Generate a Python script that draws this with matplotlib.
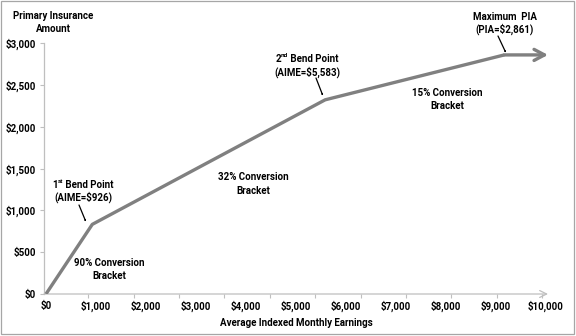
import numpy as np
import matplotlib
matplotlib.use("Agg")
import matplotlib.pyplot as plt
from matplotlib.ticker import FuncFormatter, FixedLocator
from matplotlib.patches import Rectangle, FancyArrowPatch

FONT = 'Roboto'
plt.rcParams['font.family'] = [FONT, 'DejaVu Sans']
plt.rcParams['font.weight'] = 'bold'

# PIA formula segments: AIME (x) and PIA (y) at each bend
aime_points = [0, 926, 5583, 9166]
pia_points = [0, 833.4, 2323.6, 2861]
aime_arrow_end = 10040

x_ticks = [0, 1000, 2000, 3000, 4000, 5000, 6000, 7000, 8000, 9000, 10000]
y_ticks = [0, 500, 1000, 1500, 2000, 2500, 3000]

line_color = '#808080'
axis_color = '#bfbfbf'
fs = 7

fig = plt.figure(figsize=(5.76, 3.36), dpi=100)
ax = fig.add_axes([44 / 576, 1 - 294 / 336, 504 / 576, (294 - 43.3) / 336])

# chart area border
fig.patches.append(Rectangle((0.002, 0.006), 0.995, 0.99, transform=fig.transFigure,
                             fill=False, edgecolor='#a6a6a6', lw=0.9))

ax.plot(aime_points, pia_points, color=line_color, lw=2.4, solid_joinstyle='round',
        solid_capstyle='butt', zorder=3)
ax.annotate('', xy=(aime_arrow_end, pia_points[-1]), xytext=(aime_points[-1], pia_points[-1]),
            arrowprops=dict(arrowstyle='->,head_length=0.75,head_width=0.4', color=line_color,
                            lw=2.4, shrinkA=0, shrinkB=0),
            annotation_clip=False, zorder=3)

ax.set_xlim(-40, 10040)
ax.set_ylim(0, 3000)

for s in ['top', 'right', 'bottom']:
    ax.spines[s].set_visible(False)
ax.spines['left'].set_color(axis_color)
ax.spines['left'].set_linewidth(0.9)

# x axis line with an open arrow at its end
ax.annotate('', xy=(1.0, 0), xytext=(0, 0), xycoords='axes fraction',
            arrowprops=dict(arrowstyle='->,head_length=0.5,head_width=0.25', color=axis_color,
                            lw=0.9, shrinkA=0, shrinkB=0), annotation_clip=False, zorder=1)

money = FuncFormatter(lambda v, p: '${:,.0f}'.format(v))
ax.xaxis.set_major_locator(FixedLocator(x_ticks))
ax.xaxis.set_major_formatter(money)
ax.yaxis.set_major_locator(FixedLocator(y_ticks))
ax.yaxis.set_major_formatter(money)
ax.xaxis.set_minor_locator(FixedLocator(np.linspace(-60, 9920, 12)))
ax.tick_params(axis='x', which='major', length=0, pad=5, labelsize=fs)
ax.tick_params(axis='x', which='minor', length=3, color=axis_color, width=0.8)
ax.tick_params(axis='y', which='major', length=3, color=axis_color, width=0.8, pad=3, labelsize=fs)
for lab in ax.get_xticklabels() + ax.get_yticklabels():
    lab.set_fontweight('bold')

ax.set_xlabel('Average Indexed Monthly Earnings', fontsize=fs, fontweight='bold', labelpad=4)


def px(x, y):
    return (x / 576, 1 - y / 336)


def label(x, y, s, **kw):
    fig.text(*px(x, y), s, ha='center', va='center', fontsize=fs, fontweight='bold', **kw)


def ordinal_line(x, y, num, suffix, rest):
    """Draw e.g. '1st Bend Point' with a raised suffix, centred at (x, y)."""
    t1 = fig.text(0, 0, num, fontsize=fs, fontweight='bold')
    t2 = fig.text(0, 0, suffix, fontsize=fs * 0.65, fontweight='bold')
    t3 = fig.text(0, 0, rest, fontsize=fs, fontweight='bold')
    r = fig.canvas.get_renderer()
    w1 = t1.get_window_extent(r).width
    w2 = t2.get_window_extent(r).width
    w3 = t3.get_window_extent(r).width
    x0 = x - (w1 + w2 + w3) / 2
    yy = 336 - y
    for t, xo, dy in [(t1, x0, 0), (t2, x0 + w1, 2.8), (t3, x0 + w1 + w2, 0)]:
        t.set_position((xo / 576, (yy + dy) / 336))
        t.set_va('center_baseline')
        t.set_ha('left')


arrowkw = dict(arrowstyle='-|>,head_length=0.5,head_width=0.2', color='black', lw=0.9,
               shrinkA=0, shrinkB=0)


def pointer(x0, y0, x1, y1):
    fig.patches.append(FancyArrowPatch(px(x0, y0), px(x1, y1), transform=fig.transFigure,
                                       **arrowkw))


label(53, 16, 'Primary Insurance')
label(53, 29, 'Amount')

ordinal_line(83, 184, '1', 'st', ' Bend Point')
label(83, 197, '(AIME=$926)')
pointer(79, 205, 86, 222)

ordinal_line(307, 58, '2', 'nd', ' Bend Point')
label(307, 72, '(AIME=$5,583)')
pointer(316, 78, 323, 96)

label(505, 17, 'Maximum  PIA')
label(505, 29, '(PIA=$2,861)')
pointer(498, 36, 506, 53)

label(109, 263, '90% Conversion')
label(109, 276, 'Bracket')
label(253, 177, '32% Conversion')
label(253, 191, 'Bracket')
label(447, 93, '15% Conversion')
label(447, 106, 'Bracket')

fig.savefig('out.png', dpi=100)
